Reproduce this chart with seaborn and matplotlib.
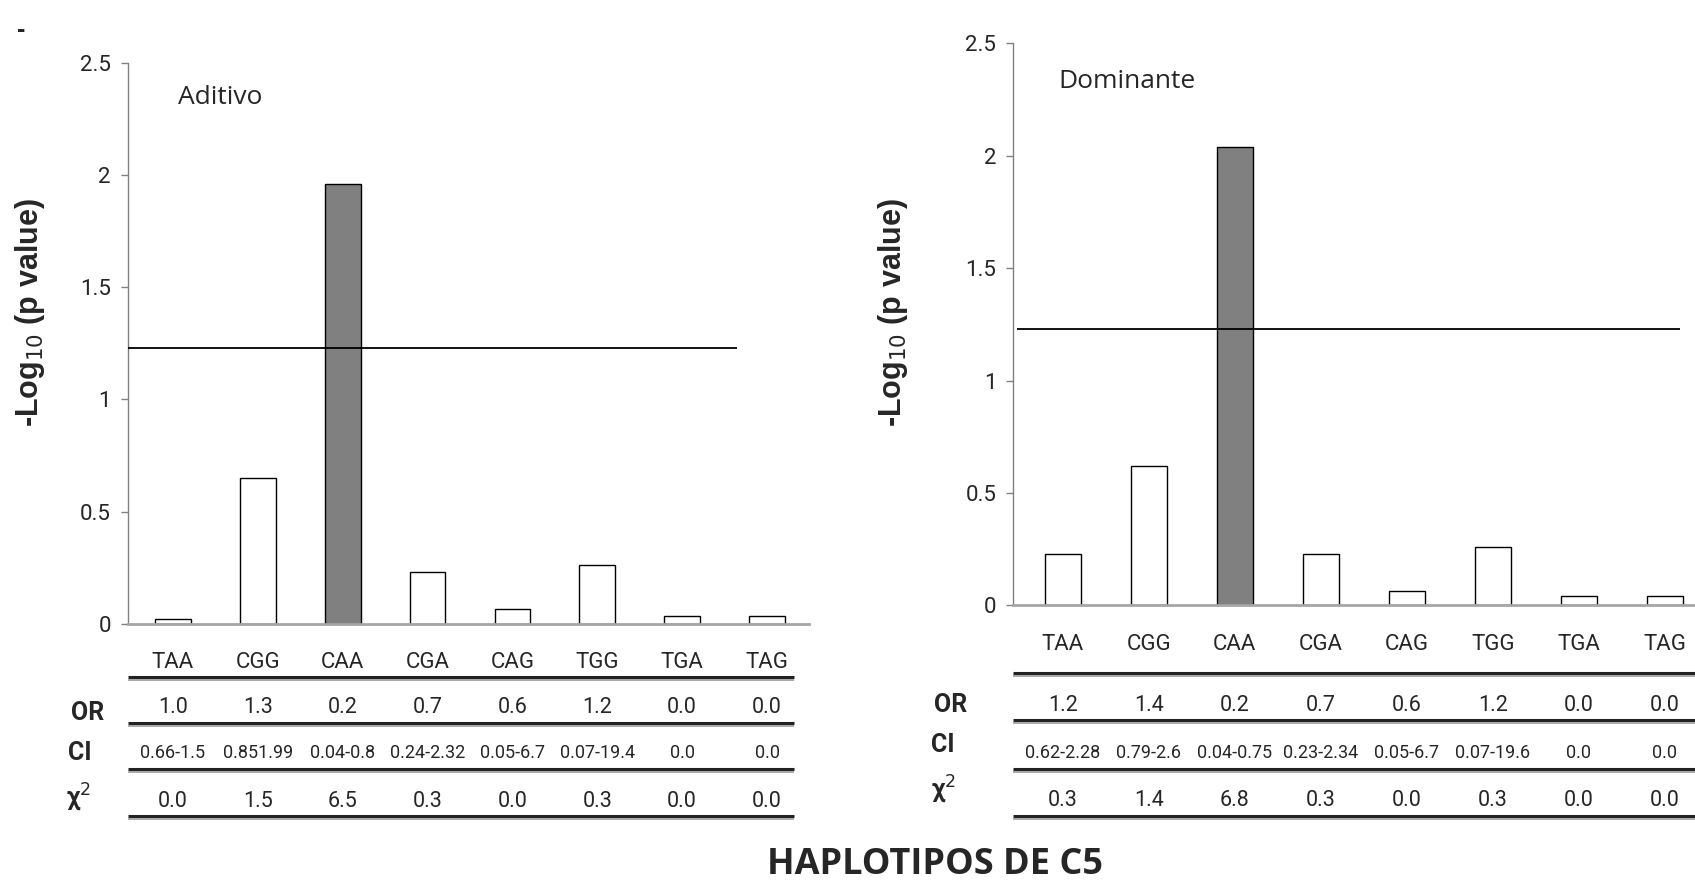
import matplotlib
matplotlib.use("Agg")
import matplotlib.pyplot as plt
import matplotlib.transforms as mtransforms
from matplotlib import font_manager as fm
import seaborn as sns
import pandas as pd

# ---------------- data ----------------
haplotypes = ["TAA", "CGG", "CAA", "CGA", "CAG", "TGG", "TGA", "TAG"]
aditivo_vals = [0.02, 0.65, 1.96, 0.23, 0.065, 0.26, 0.035, 0.035]
dominante_vals = [0.23, 0.62, 2.04, 0.23, 0.065, 0.26, 0.04, 0.04]
threshold = 1.23
highlight = "CAA"

aditivo_or = ["1.0", "1.3", "0.2", "0.7", "0.6", "1.2", "0.0", "0.0"]
aditivo_ci = ["0.66-1.5", "0.851.99", "0.04-0.8", "0.24-2.32", "0.05-6.7", "0.07-19.4", "0.0", "0.0"]
aditivo_chi = ["0.0", "1.5", "6.5", "0.3", "0.0", "0.3", "0.0", "0.0"]

dominante_or = ["1.2", "1.4", "0.2", "0.7", "0.6", "1.2", "0.0", "0.0"]
dominante_ci = ["0.62-2.28", "0.79-2.6", "0.04-0.75", "0.23-2.34", "0.05-6.7", "0.07-19.6", "0.0", "0.0"]
dominante_chi = ["0.3", "1.4", "6.8", "0.3", "0.0", "0.3", "0.0", "0.0"]

yticks = [0, 0.5, 1, 1.5, 2, 2.5]
ytick_labels = ["0", "0.5", "1", "1.5", "2", "2.5"]
row_labels = ["OR", "CI", "χ$^2$"]
titles = ["Aditivo", "Dominante"]
ylabel = "-Log$_{10}$ (p value)"
main_title = "HAPLOTIPOS DE C5"


# ---------------- fonts ----------------
def has_font(name):
    try:
        fm.findfont(fm.FontProperties(family=name), fallback_to_default=False)
        return True
    except Exception:
        return False


if has_font("Liberation Sans Narrow"):
    NARROW = "Liberation Sans Narrow"
    sz_val, sz_ci, sz_cat, sz_tick, sz_row = 16, 15, 17, 16, 19
else:
    NARROW = "Roboto"
    sz_val, sz_ci, sz_cat, sz_tick, sz_row = 15.5, 13, 16, 16, 18

sns.set_style("white")
plt.rcParams["font.family"] = [NARROW, "DejaVu Sans"]

W, H = 1695, 880
fig = plt.figure(figsize=(W / 100, H / 100), dpi=100)


def fy(py):
    return 1 - py / H


def fx(px):
    return px / W


palette = {h: ("#808080" if h == highlight else "white") for h in haplotypes}

configs = [
    dict(vals=aditivo_vals, orv=aditivo_or, ci=aditivo_ci, chi=aditivo_chi,
         ax_px=(127.6, 62.7, 808.6, 623.7), xlim=(-0.535, 7.49),
         thr=(-0.535, 6.65), table_x=(-0.535, 7.32),
         lab_y=662, lines_y=[677, 723, 769, 816], or_y=707, ci_y=753, chi_y=801,
         rl_x=[88, 80, 79], rl_y=[713, 753, 797],
         title_xy=(178, 97), ylab_xy=(30, 313)),
    dict(vals=dominante_vals, orv=dominante_or, ci=dominante_ci, chi=dominante_chi,
         ax_px=(1013, 43.2, 1695, 605.4), xlim=(-0.577, 7.35),
         thr=(-0.53, 7.17), table_x=(-0.577, 7.35),
         lab_y=645, lines_y=[673, 720, 769, 816], or_y=705, ci_y=753, chi_y=800,
         rl_x=[951, 943, 944], rl_y=[705, 745, 789],
         title_xy=(1058, 81), ylab_xy=(893, 313)),
]

for i, c in enumerate(configs):
    x0, y0, x1, y1 = c["ax_px"]
    ax = fig.add_axes([fx(x0), fy(y1), fx(x1) - fx(x0), (y1 - y0) / H])
    df = pd.DataFrame({"hap": haplotypes, "val": c["vals"]})
    sns.barplot(data=df, x="hap", y="val", hue="hap", palette=palette,
                legend=False, width=0.42, edgecolor="black", linewidth=1.0,
                ax=ax, saturation=1)
    ax.set_xlim(*c["xlim"])
    ax.set_ylim(0, 2.5)
    ax.hlines(threshold, c["thr"][0], c["thr"][1], color="black", lw=1.3, zorder=5)

    ax.set_yticks(yticks)
    ax.set_yticklabels(ytick_labels, fontsize=sz_tick)
    ax.tick_params(axis="y", length=5, width=1, color="#808080", pad=7,
                   left=True, direction="out")
    ax.set_xticks([])
    ax.set_xlabel("")
    ax.set_ylabel("")
    for s in ["top", "right"]:
        ax.spines[s].set_visible(False)
    ax.spines["left"].set_color("#808080")
    ax.spines["left"].set_linewidth(1)
    ax.spines["bottom"].set_color("#a6a6a6")
    ax.spines["bottom"].set_linewidth(2)
    ax.patch.set_alpha(0)

    trans = mtransforms.blended_transform_factory(ax.transData, fig.transFigure)
    for j, h in enumerate(haplotypes):
        ax.text(j, fy(c["lab_y"]), h, transform=trans, ha="center", va="center",
                fontsize=sz_cat, clip_on=False)
        ax.text(j, fy(c["or_y"]), c["orv"][j], transform=trans, ha="center",
                va="center", fontsize=sz_val, clip_on=False)
        ax.text(j, fy(c["ci_y"]), c["ci"][j], transform=trans, ha="center",
                va="center", fontsize=sz_ci, clip_on=False)
        ax.text(j, fy(c["chi_y"]), c["chi"][j], transform=trans, ha="center",
                va="center", fontsize=sz_val, clip_on=False)
    for ly in c["lines_y"]:
        ax.plot(c["table_x"], [fy(ly), fy(ly)], transform=trans, color="#222222",
                lw=2.2, clip_on=False, solid_capstyle="butt")
        ax.plot(c["table_x"], [fy(ly + 2.5), fy(ly + 2.5)], transform=trans,
                color="#9a9a9a", lw=1.2, clip_on=False, solid_capstyle="butt")

    for lab, lx, ly in zip(row_labels, c["rl_x"], c["rl_y"]):
        fig.text(fx(lx), fy(ly), lab, ha="center", va="center", fontsize=sz_row,
                 fontweight="bold")

    fig.text(fx(c["title_xy"][0]), fy(c["title_xy"][1]), titles[i], ha="left",
             va="center", fontsize=19, family=["Open Sans", "DejaVu Sans"])
    fig.text(fx(c["ylab_xy"][0]), fy(c["ylab_xy"][1]), ylabel, rotation=90,
             ha="center", va="center", fontsize=22, fontweight="bold",
             family=["Liberation Sans", "DejaVu Sans"])

fig.text(fx(935), fy(865), main_title, ha="center", va="center", fontsize=26,
         fontweight="bold", family=["Open Sans", "DejaVu Sans"])
fig.text(fx(21), fy(30), "-", ha="center", va="center", fontsize=18,
         fontweight="bold", family=["Liberation Sans", "DejaVu Sans"])

fig.savefig("out.png", dpi=100)
